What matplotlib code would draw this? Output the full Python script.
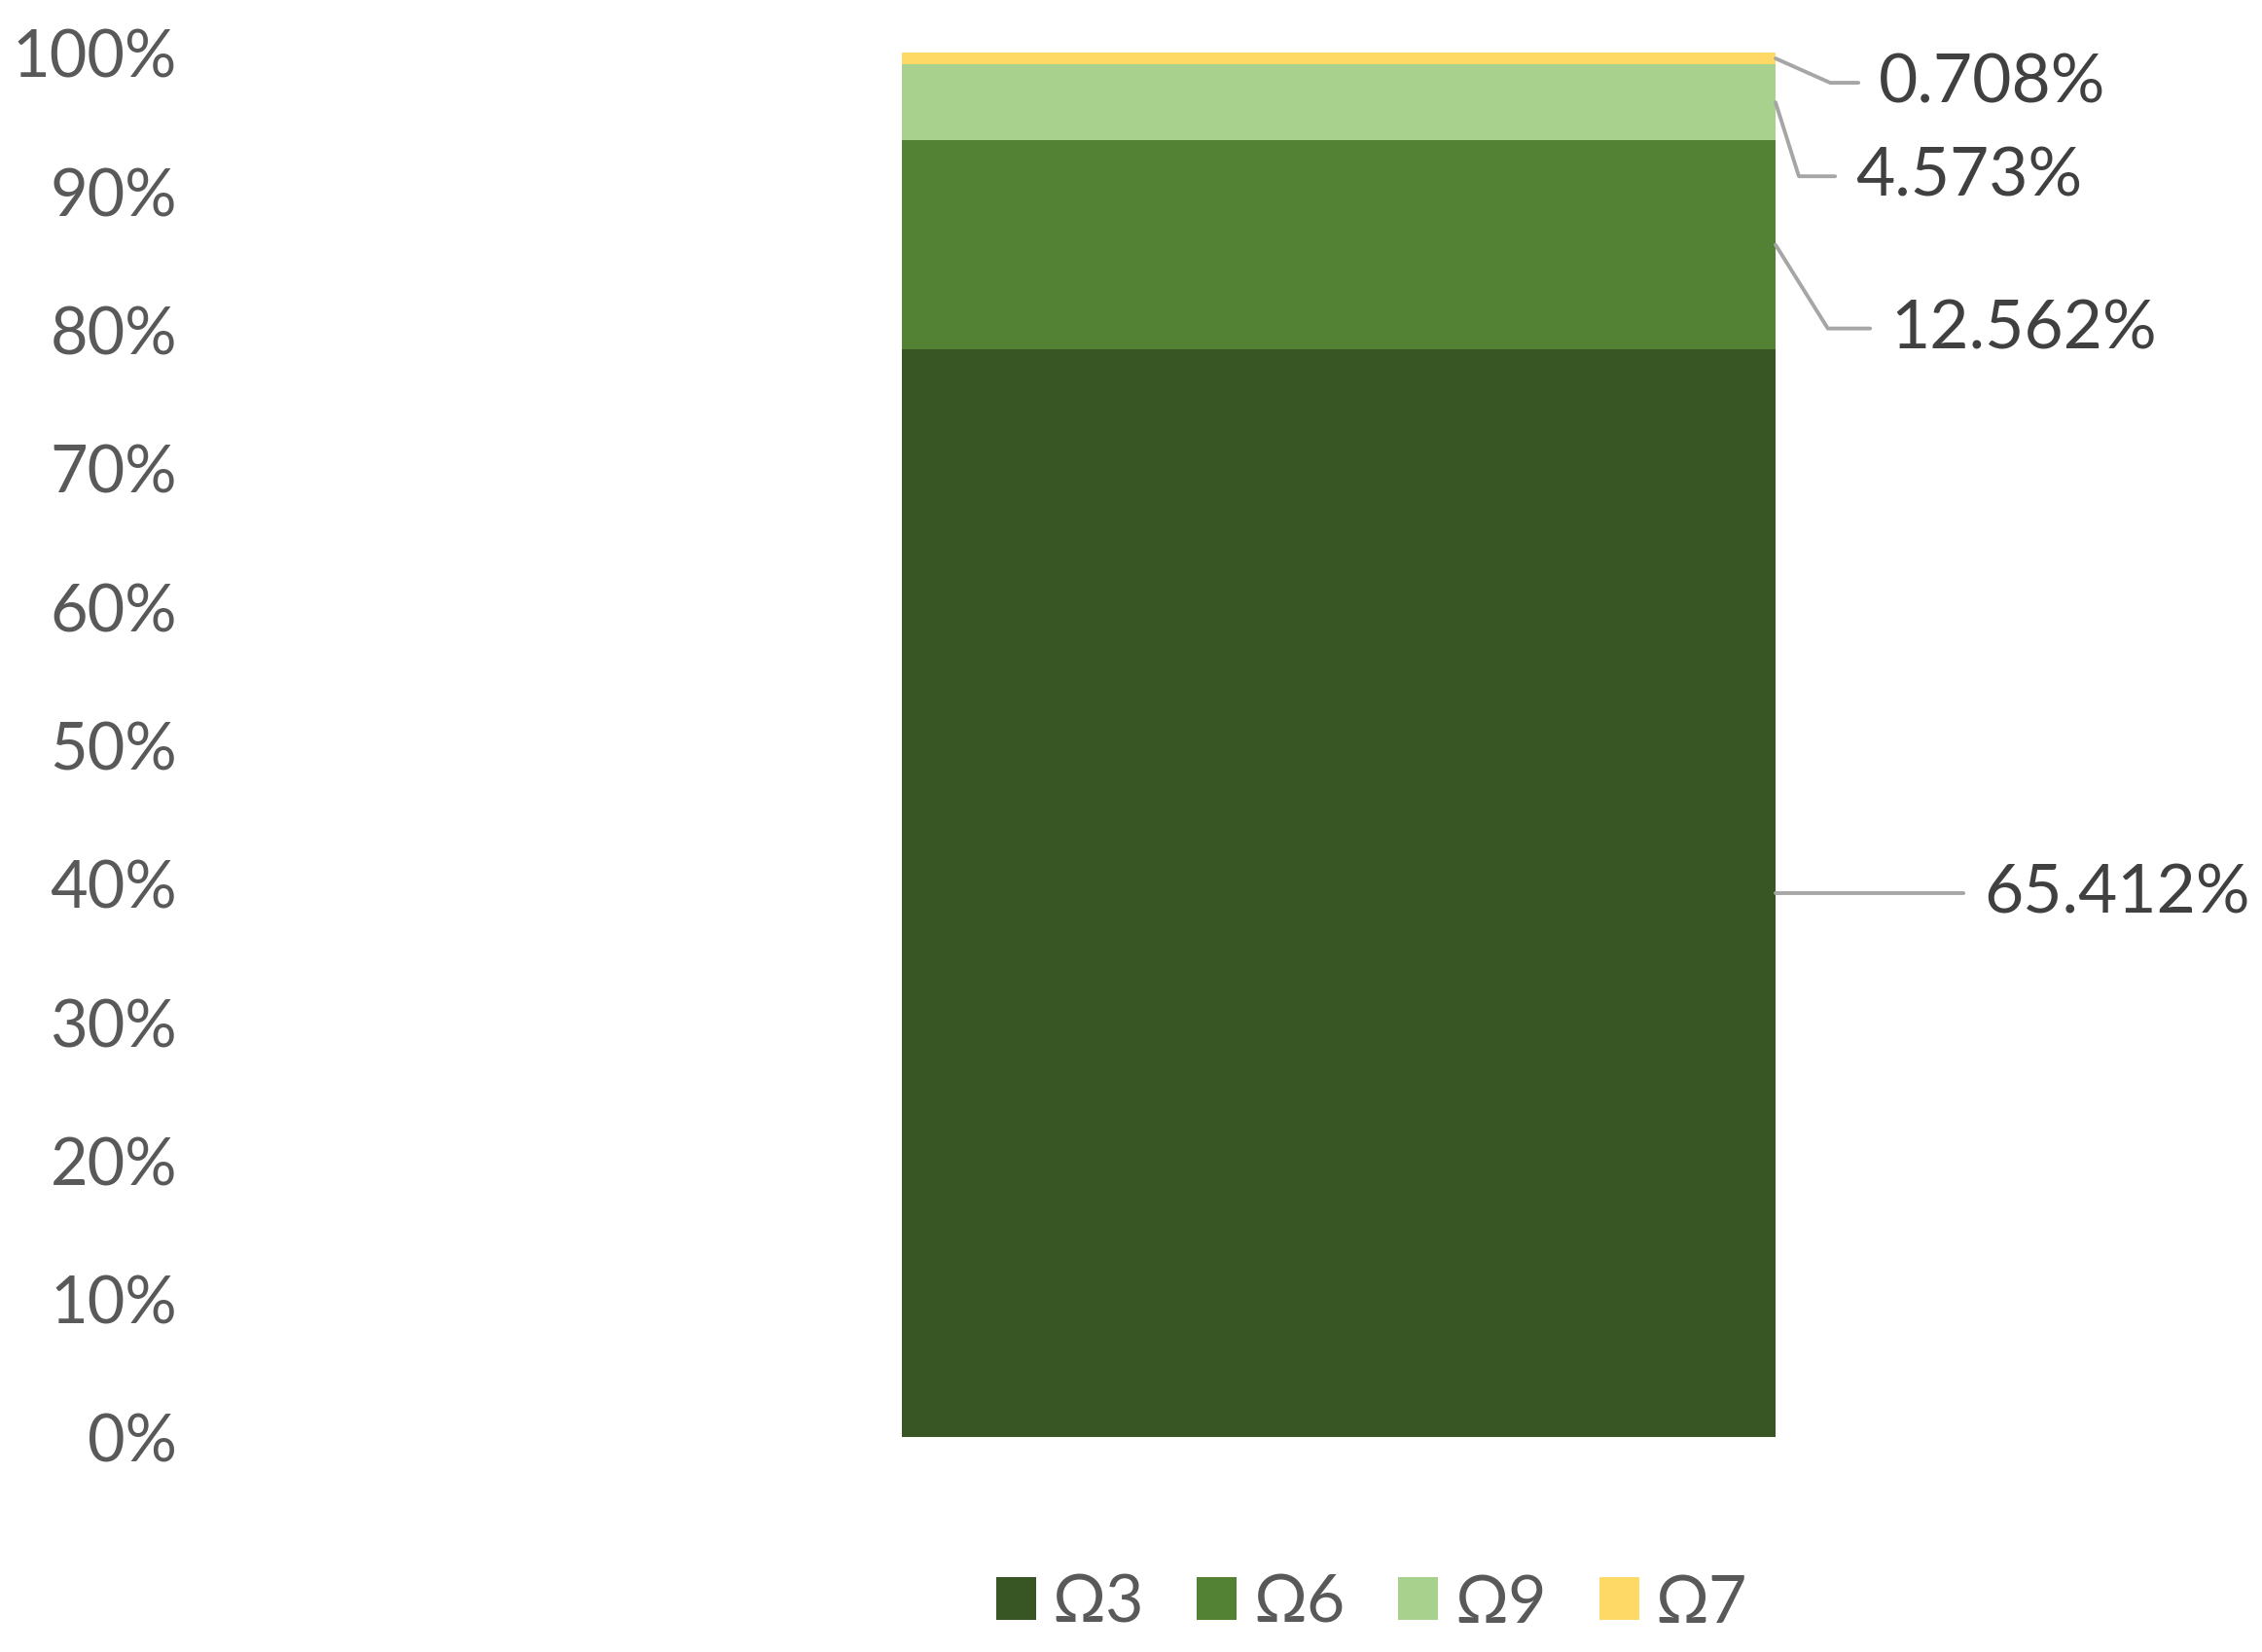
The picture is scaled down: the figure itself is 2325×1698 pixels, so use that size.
import numpy as np
import matplotlib
matplotlib.use("Agg")
import matplotlib.pyplot as plt

# values shown in the data labels (percent of total sample)
series = ["Ω3", "Ω6", "Ω9", "Ω7"]
values = [65.412, 12.562, 4.573, 0.708]
labels = ["65.412%", "12.562%", "4.573%", "0.708%"]
colors = ["#375623", "#548235", "#A9D18E", "#FFD966"]

# 100% stacked -> normalise
vals = np.array(values)
share = vals / vals.sum() * 100
bottoms = np.concatenate([[0], np.cumsum(share)[:-1]])

plt.rcParams["font.family"] = ["Lato", "DejaVu Sans"]

W, H = 2325, 1699
fig = plt.figure(figsize=(W / 100, H / 100), dpi=100)
ax = fig.add_axes([200 / W, 1 - 1478 / H, 1 - 200 / W, (1478 - 55) / H])

for s, v, b, c in zip(series, share, bottoms, colors):
    ax.bar(0, v, bottom=b, width=1.0, color=c, label=s, zorder=2)

# bar spans 927..1825 px -> width 1 unit = 898 px
ax.set_xlim(-0.5 - (927 - 200) / 898, 0.5 + (W - 1825) / 898)
ax.set_ylim(0, 100)
ax.set_yticks(np.arange(0, 101, 10))
ax.set_yticklabels([f"{t}%" for t in range(0, 101, 10)])
ax.set_xticks([])
for sp in ax.spines.values():
    sp.set_visible(False)
ax.tick_params(axis="y", length=0, pad=13, labelsize=48, labelcolor="#595959")

# data labels with leader lines (offsets in pixels from the bar edge)
offs = [(214, 0, None), (118, -86, -58), (82, -76, -72.5), (106, -25, -24)]
for v, b, lab, (dx, dy, ang) in zip(share, bottoms, labels, offs):
    mid = b + v / 2
    if ang is None:
        cs = "arc3"
    else:
        cs = f"angle,angleA=0,angleB={ang},rad=0"
    ax.annotate(lab, xy=(0.5, mid), xycoords="data",
                xytext=(dx, dy), textcoords="offset pixels",
                ha="left", va="center", fontsize=50, color="#404040",
                annotation_clip=False,
                arrowprops=dict(arrowstyle="-", color="#A6A6A6", lw=2.8,
                                connectionstyle=cs, relpos=(0, 0.5),
                                shrinkA=13, shrinkB=0))

fig.legend(loc="center", bbox_to_anchor=(1410 / W, 1 - 1649 / H), ncol=4,
           frameon=False, fontsize=49, labelcolor="#595959",
           handlelength=0.6, handleheight=0.6, handletextpad=0.25,
           columnspacing=0.8, borderaxespad=0)

fig.savefig("out.png", dpi=100, facecolor="white")
